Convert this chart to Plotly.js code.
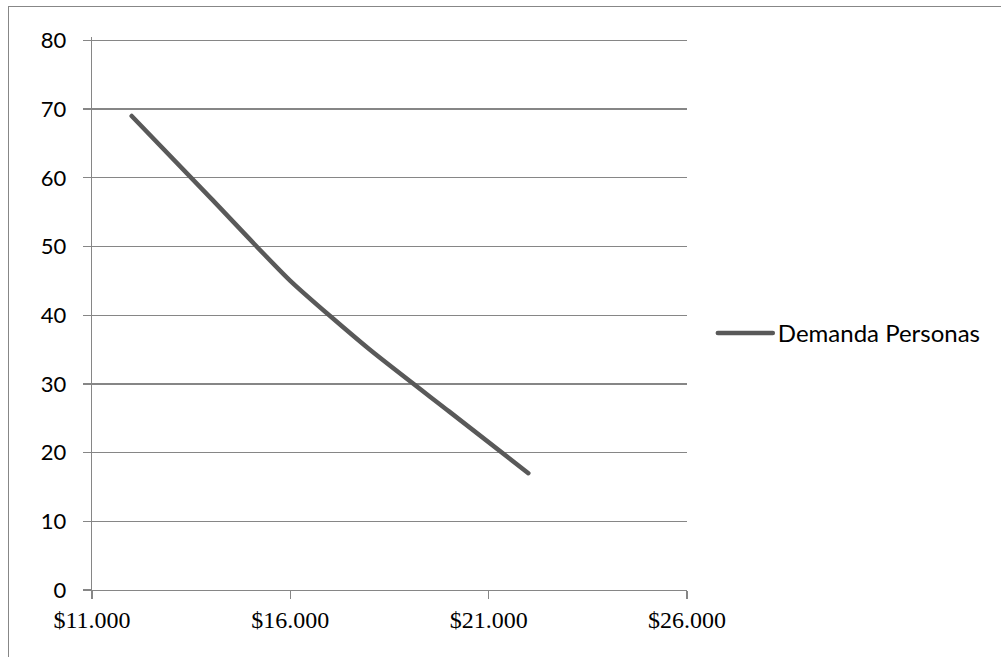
<!DOCTYPE html>
<html>
<head>
<meta charset="utf-8">
<script src="https://cdn.plot.ly/plotly-3.0.1.min.js"></script>
<style>
  html, body { margin: 0; padding: 0; background: #fff; overflow: hidden; }
  #frame {
    position: absolute; left: 8px; top: 6px; width: 1100px; height: 760px;
    border-left: 1.5px solid #878787; border-top: 1.5px solid #878787;
  }
  #chart { position: absolute; left: 0; top: 0; width: 1001px; height: 657px; }
  .scatterlayer path.js-line, .legend path.js-line { stroke-linecap: round; }
</style>
</head>
<body>
<div id="frame"></div>
<div id="chart"></div>
<script>
// Price (pesos) against number of people demanding
const prices = [12000, 14000, 16000, 18000, 20000, 22000];
const demand = [69, 57, 45, 35, 26, 17];
const seriesName = 'Demanda Personas';

const xTickVals = [11000, 16000, 21000, 26000];
const xTickLabels = ['$11.000', '$16.000', '$21.000', '$26.000'];
const yTickVals = [0, 10, 20, 30, 40, 50, 60, 70, 80];

const gray = '#868686';

const trace = {
  type: 'scatter',
  mode: 'lines',
  x: prices,
  y: demand,
  name: seriesName,
  line: { color: '#595959', width: 4.5, shape: 'spline', smoothing: 0.6 }
};

const layout = {
  width: 1001,
  height: 657,
  paper_bgcolor: 'rgba(0,0,0,0)',
  plot_bgcolor: 'rgba(0,0,0,0)',
  margin: { l: 91.6, r: 314.3, t: 36.6, b: 67, pad: 0 },
  showlegend: true,
  legend: {
    x: 1.0434, xanchor: 'left', y: 0.464, yanchor: 'middle',
    font: { family: 'Lato, sans-serif', size: 24, color: '#000' },
    itemwidth: 55,
    bgcolor: 'rgba(0,0,0,0)'
  },
  xaxis: {
    range: [11000, 26000],
    tickvals: xTickVals,
    ticktext: xTickLabels,
    showgrid: false,
    zeroline: false,
    showline: true,
    linecolor: gray,
    linewidth: 1.3,
    ticks: 'outside',
    ticklen: 8,
    tickwidth: 1.3,
    tickcolor: gray,
    tickfont: { family: 'Liberation Serif', size: 24, color: '#000' }
  },
  yaxis: {
    range: [0, 80.5],
    tickvals: yTickVals,
    showgrid: true,
    gridcolor: gray,
    gridwidth: 1.3,
    zeroline: false,
    showline: true,
    linecolor: gray,
    linewidth: 1.3,
    ticks: 'outside',
    ticklen: 8,
    tickwidth: 1.3,
    tickcolor: gray,
    ticklabelstandoff: 12,
    tickfont: { family: 'Lato, sans-serif', size: 22, color: '#000' }
  }
};

Plotly.newPlot('chart', [trace], layout, { staticPlot: true, displayModeBar: false });
</script>
</body>
</html>
